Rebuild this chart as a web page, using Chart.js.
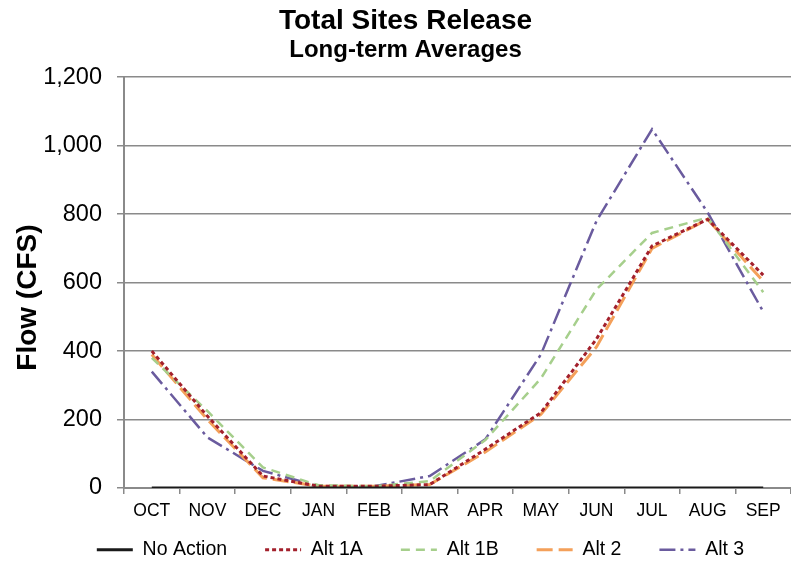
<!DOCTYPE html>
<html>
<head>
<meta charset="utf-8">
<script src="https://cdn.jsdelivr.net/npm/chart.js@4"></script>
<style>
  html, body { margin: 0; padding: 0; background: #fff; }
  #wrap { width: 791px; height: 566px; }
</style>
</head>
<body>
<div id="wrap"><canvas id="c" width="791" height="566"></canvas></div>
<script>
const months = ['OCT','NOV','DEC','JAN','FEB','MAR','APR','MAY','JUN','JUL','AUG','SEP'];
const noAction = [0, 0, 0, 0, 0, 0, 0, 0, 0, 0, 0, 0];
const alt1A = [400, 210, 35, 5, 5, 10, 113, 220, 435, 707, 785, 622];
const alt1B = [380, 225, 60, 8, 5, 20, 140, 320, 580, 745, 790, 572];
const alt2  = [390, 200, 30, 5, 5, 10, 105, 215, 412, 700, 785, 604];
const alt3  = [340, 148, 50, 5, 5, 35, 142, 390, 780, 1048, 805, 515];
const yTicks = [0, 200, 400, 600, 800, 1000, 1200];

const FONT = "'Liberation Sans', Arial, sans-serif";

function ds(label, data, color, dash, width) {
  return {
    label, data,
    borderColor: color, backgroundColor: color,
    borderWidth: width, borderDash: dash,
    pointRadius: 0, tension: 0, fill: false
  };
}

// Layout helpers: fixed legend box height + position, y-axis title
const layoutFix = {
  id: 'layoutFix',
  beforeLayout(chart) {
    const lg = chart.legend;
    if (lg && !lg._patched) {
      const orig = lg.fit;
      lg.fit = function () { orig.call(this); this.height = 37; };
      lg._patched = true;
    }
  },
  afterLayout(chart) {
    const lg = chart.legend;
    if (lg) {
      lg.top = 502;
      lg.bottom = chart.height;
      lg.height = lg.bottom - lg.top;
      lg.left += 15; lg.right += 15;
    }
  },
  afterDraw(chart) {
    const ctx = chart.ctx;
    const cy = (chart.chartArea.top + chart.chartArea.bottom) / 2 + 15;
    ctx.save();
    ctx.translate(28, cy);
    ctx.rotate(-Math.PI / 2);
    ctx.font = 'bold 28px ' + FONT;
    ctx.textAlign = 'center';
    ctx.textBaseline = 'middle';
    ctx.fillStyle = '#000';
    ctx.fillText('Flow (CFS)', 0, 0);
    ctx.restore();
  }
};

new Chart(document.getElementById('c'), {
  type: 'line',
  data: {
    labels: months,
    datasets: [
      ds('No Action', noAction, '#1a1a1a', [], 3),
      ds('Alt 1A', alt1A, '#a3202c', [4, 3], 3),
      ds('Alt 1B', alt1B, '#a6cf8c', [9, 6], 2.5),
      ds('Alt 2', alt2, '#f4a05a', [16, 6], 3),
      ds('Alt 3', alt3, '#6a5b9e', [16, 5, 3, 5], 2.5)
    ]
  },
  plugins: [layoutFix],
  options: {
    responsive: false,
    animation: false,
    devicePixelRatio: 1,
    layout: { padding: { left: 20, right: 0, top: 0, bottom: 0 } },
    plugins: {
      title: {
        display: true,
        text: 'Total Sites Release',
        color: '#000',
        font: { family: FONT, size: 28, weight: 'bold', lineHeight: 1.1 },
        padding: { top: 6, bottom: 0 }
      },
      subtitle: {
        display: true,
        text: 'Long-term Averages',
        color: '#000',
        font: { family: FONT, size: 24, weight: 'bold', lineHeight: 1.1 },
        padding: { top: 0, bottom: 14 }
      },
      legend: {
        position: 'bottom',
        labels: {
          usePointStyle: true,
          pointStyle: 'line',
          pointStyleWidth: 36,
          color: '#000',
          font: { family: FONT, size: 19.5 },
          padding: 38,
          generateLabels(chart) {
            const items = Chart.defaults.plugins.legend.labels.generateLabels(chart);
            items.forEach(it => {
              const d = chart.data.datasets[it.datasetIndex];
              it.lineDash = d.borderDash;
              it.lineWidth = d.borderWidth;
              it.strokeStyle = d.borderColor;
              it.pointStyle = 'line';
            });
            return items;
          }
        }
      },
      tooltip: { enabled: false }
    },
    scales: {
      x: {
        offset: true,
        grid: {
          offset: true,
          drawOnChartArea: false,
          drawTicks: true,
          tickLength: 6,
          color: '#8a8a8a',
          lineWidth: 1.5
        },
        border: { color: '#8a8a8a', width: 2 },
        ticks: {
          color: '#000',
          font: { family: FONT, size: 17.5 },
          padding: 7,
          maxRotation: 0,
          autoSkip: false
        }
      },
      y: {
        min: 0, max: 1200,
        afterBuildTicks: (scale) => { scale.ticks = yTicks.map(v => ({ value: v })); },
        afterFit: (scale) => { scale.width = 104; },
        grid: {
          color: '#8a8a8a',
          lineWidth: 1.5,
          tickLength: 7
        },
        border: { color: '#8a8a8a', width: 2 },
        ticks: {
          color: '#000',
          font: { family: FONT, size: 23.5 },
          padding: 15,
          callback: (v) => v.toLocaleString('en-US')
        }
      }
    }
  }
});
</script>
</body>
</html>
